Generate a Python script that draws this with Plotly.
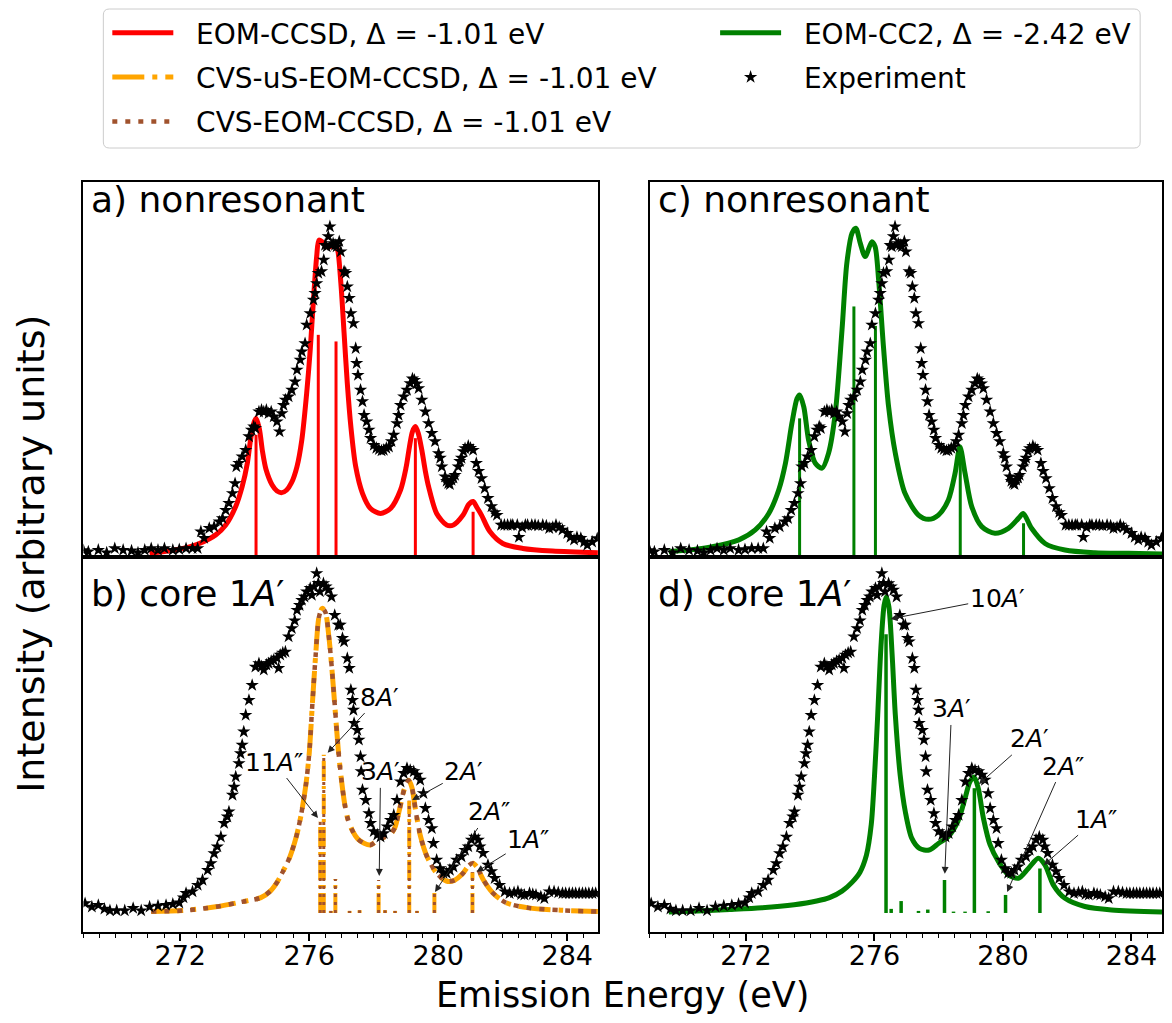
import plotly.graph_objects as go

FONT = "DejaVu Sans"
# the page body has an 8 px margin; the figure is sized so that nothing overflows the window
OFF = 8
FW, FH = 1156, 1007
SX = FW / 1164.0  # tiny horizontal squeeze so the right frame stays inside the page

# ---------------- data ----------------
X_RANGE = [269.0, 284.95]
X_TICKS = [272, 276, 280, 284]

# experiment, nonresonant (panels a, c)
EXP_NR_E = [269.00, 269.15, 269.46, 269.72, 269.97, 270.23, 270.49, 270.69, 270.90, 271.10,
            271.31, 271.51, 271.77, 271.97, 272.18, 272.38, 272.54, 272.64, 272.74, 272.90,
            273.05, 273.21, 273.31, 273.41, 273.51, 273.62, 273.70, 273.74, 273.82, 273.92,
            274.03, 274.13, 274.21, 274.28, 274.33, 274.44, 274.52, 274.59, 274.67, 274.74,
            274.82, 274.90, 275.00, 275.08, 275.15, 275.20, 275.26, 275.36, 275.46, 275.56,
            275.62, 275.72, 275.77, 275.87, 275.92, 276.03, 276.13, 276.18, 276.23, 276.28,
            276.38, 276.45, 276.49, 276.54, 276.59, 276.64, 276.69, 276.74, 276.80, 276.85,
            276.93, 276.98, 277.08, 277.13, 277.18, 277.24, 277.29, 277.37, 277.44, 277.47,
            277.51, 277.59, 277.65, 277.70, 277.78, 277.85, 277.90, 278.00, 278.08, 278.16,
            278.24, 278.31, 278.39, 278.47, 278.55, 278.62, 278.72, 278.77, 278.83, 278.93,
            279.03, 279.13, 279.20, 279.26, 279.33, 279.39, 279.49, 279.60, 279.70, 279.80,
            279.90, 280.01, 280.06, 280.11, 280.21, 280.26, 280.31, 280.36, 280.41, 280.47,
            280.52, 280.62, 280.67, 280.72, 280.78, 280.83, 280.93, 281.00, 281.08, 281.18,
            281.25, 281.34, 281.44, 281.54, 281.65, 281.75, 281.82, 281.95, 282.05, 282.15,
            282.25, 282.31, 282.45, 282.50, 282.60, 282.70, 282.77, 282.90, 283.00, 283.10,
            283.24, 283.35, 283.44, 283.55, 283.65, 283.75, 283.85, 284.00, 284.10, 284.21,
            284.30, 284.42, 284.52, 284.62, 284.77, 284.93]
EXP_NR_I = [0.020, 0.016, 0.021, 0.013, 0.026, 0.021, 0.019, 0.013, 0.021, 0.026,
            0.021, 0.026, 0.021, 0.023, 0.026, 0.026, 0.026, 0.077, 0.057, 0.087,
            0.092, 0.107, 0.117, 0.142, 0.163, 0.193, 0.223, 0.274, 0.284, 0.304,
            0.324, 0.365, 0.385, 0.395, 0.390, 0.440, 0.445, 0.440, 0.445, 0.435,
            0.440, 0.425, 0.410, 0.380, 0.435, 0.460, 0.476, 0.486, 0.506, 0.531,
            0.567, 0.597, 0.622, 0.647, 0.703, 0.738, 0.779, 0.799, 0.829, 0.860,
            0.865, 0.900, 0.945, 0.940, 0.971, 1.001, 0.945, 0.950, 0.945, 0.940,
            0.956, 0.925, 0.865, 0.860, 0.819, 0.784, 0.738, 0.708, 0.632, 0.587,
            0.551, 0.506, 0.471, 0.430, 0.410, 0.385, 0.360, 0.339, 0.330, 0.326,
            0.322, 0.324, 0.330, 0.334, 0.350, 0.370, 0.405, 0.430, 0.460, 0.486,
            0.506, 0.526, 0.540, 0.536, 0.525, 0.511, 0.476, 0.440, 0.405, 0.375,
            0.350, 0.314, 0.300, 0.274, 0.243, 0.230, 0.223, 0.220, 0.233, 0.240,
            0.248, 0.274, 0.290, 0.300, 0.320, 0.329, 0.336, 0.330, 0.324, 0.284,
            0.260, 0.238, 0.208, 0.178, 0.153, 0.135, 0.127, 0.097, 0.097, 0.097,
            0.097, 0.097, 0.097, 0.060, 0.090, 0.097, 0.097, 0.097, 0.097, 0.095,
            0.097, 0.095, 0.087, 0.090, 0.097, 0.090, 0.082, 0.072, 0.060, 0.052,
            0.060, 0.057, 0.045, 0.036, 0.046, 0.056]

# experiment, core 1A' resonant (panels b, d)
EXP_RES_E = [269.05, 269.26, 269.46, 269.65, 269.82, 270.03, 270.28, 270.54, 270.79, 271.05,
             271.31, 271.56, 271.77, 271.97, 272.10, 272.18, 272.38, 272.54, 272.69, 272.85,
             272.95, 273.05, 273.15, 273.26, 273.36, 273.46, 273.51, 273.62, 273.67, 273.72,
             273.82, 273.87, 273.92, 273.97, 274.03, 274.13, 274.23, 274.33, 274.44, 274.52,
             274.59, 274.67, 274.74, 274.82, 274.90, 275.00, 275.05, 275.10, 275.18, 275.26,
             275.36, 275.46, 275.55, 275.62, 275.70, 275.77, 275.85, 275.92, 276.03, 276.08,
             276.15, 276.23, 276.28, 276.33, 276.44, 276.52, 276.59, 276.69, 276.79, 276.90,
             276.96, 277.03, 277.08, 277.18, 277.24, 277.29, 277.34, 277.37, 277.39, 277.49,
             277.54, 277.59, 277.61, 277.65, 277.75, 277.85, 277.90, 278.00, 278.11, 278.21,
             278.31, 278.42, 278.52, 278.62, 278.72, 278.83, 278.93, 279.03, 279.13, 279.24,
             279.34, 279.44, 279.54, 279.60, 279.70, 279.80, 279.85, 279.95, 280.06, 280.16,
             280.26, 280.36, 280.47, 280.57, 280.72, 280.83, 280.93, 281.03, 281.13, 281.24,
             281.29, 281.39, 281.54, 281.65, 281.75, 281.90, 282.06, 282.21, 282.35, 282.47,
             282.57, 282.67, 282.83, 282.93, 283.03, 283.18, 283.29, 283.44, 283.59, 283.72,
             283.85, 283.95, 284.06, 284.16, 284.26, 284.37, 284.47, 284.57, 284.67, 284.78,
             284.88]
EXP_RES_I = [0.028, 0.018, 0.023, 0.012, 0.007, 0.007, 0.007, 0.014, 0.007, 0.018,
             0.021, 0.023, 0.026, 0.030, 0.045, 0.058, 0.063, 0.082, 0.097, 0.126,
             0.146, 0.175, 0.195, 0.224, 0.264, 0.283, 0.298, 0.347, 0.371, 0.401,
             0.440, 0.469, 0.494, 0.533, 0.582, 0.626, 0.670, 0.724, 0.734, 0.725,
             0.715, 0.730, 0.734, 0.740, 0.744, 0.750, 0.720, 0.759, 0.765, 0.768,
             0.813, 0.837, 0.860, 0.891, 0.905, 0.920, 0.930, 0.945, 0.955, 0.935,
             0.960, 0.999, 0.970, 0.945, 0.969, 0.960, 0.950, 0.930, 0.876, 0.847,
             0.847, 0.808, 0.798, 0.749, 0.720, 0.656, 0.626, 0.597, 0.558, 0.538,
             0.509, 0.460, 0.416, 0.362, 0.332, 0.293, 0.264, 0.240, 0.230, 0.224,
             0.234, 0.254, 0.273, 0.288, 0.332, 0.386, 0.411, 0.426, 0.420, 0.416,
             0.406, 0.391, 0.352, 0.308, 0.273, 0.249, 0.205, 0.156, 0.131, 0.117,
             0.117, 0.126, 0.136, 0.156, 0.166, 0.185, 0.195, 0.215, 0.224, 0.215,
             0.195, 0.176, 0.141, 0.122, 0.102, 0.082, 0.063, 0.058, 0.060, 0.063,
             0.055, 0.053, 0.058, 0.055, 0.053, 0.048, 0.043, 0.063, 0.063, 0.060,
             0.058, 0.058, 0.058, 0.058, 0.058, 0.058, 0.058, 0.058, 0.058, 0.058,
             0.058]

# EOM-CCSD, nonresonant (panel a)
CCSD_CURVE_E = [271.05, 271.60, 272.08, 272.59, 273.10, 273.41, 273.72, 273.92, 274.08, 274.18,
                274.28, 274.35, 274.45, 274.55, 274.66, 274.85, 275.00, 275.15, 275.30, 275.45,
                275.62, 275.77, 275.92, 276.03, 276.13, 276.23, 276.30, 276.40, 276.55, 276.65,
                276.80, 276.88, 276.98, 277.08, 277.18, 277.29, 277.44, 277.65, 277.90, 278.21,
                278.52, 278.83, 279.00, 279.10, 279.20, 279.29, 279.38, 279.49, 279.60, 279.70,
                279.95, 280.26, 280.47, 280.77, 280.95, 281.08, 281.20, 281.34, 281.60, 282.00,
                282.62, 283.54, 284.95]
CCSD_CURVE_I = [0.011, 0.018, 0.026, 0.041, 0.067, 0.097, 0.153, 0.213, 0.284, 0.355,
                0.405, 0.420, 0.390, 0.320, 0.265, 0.218, 0.200, 0.195, 0.203, 0.225,
                0.274, 0.355, 0.496, 0.627, 0.779, 0.910, 0.960, 0.955, 0.940, 0.940,
                0.946, 0.930, 0.830, 0.678, 0.526, 0.395, 0.274, 0.193, 0.147, 0.132,
                0.147, 0.203, 0.270, 0.330, 0.380, 0.395, 0.375, 0.324, 0.260, 0.213,
                0.132, 0.097, 0.097, 0.127, 0.160, 0.168, 0.150, 0.127, 0.077, 0.041,
                0.026, 0.018, 0.013]
CCSD_STICK_E = [274.35, 276.28, 276.83, 279.29, 281.08]
CCSD_STICK_I = [0.370, 0.673, 0.653, 0.360, 0.137]

# EOM-CC2, nonresonant (panel c)
CC2_NR_CURVE_E = [269.60, 270.30, 270.95, 271.78, 272.29, 272.71, 273.02, 273.23, 273.43, 273.59,
                  273.67, 273.80, 273.95, 274.16, 274.37, 274.57, 274.78, 274.99, 275.14, 275.30,
                  275.42, 275.56, 275.71, 275.92, 276.02, 276.13, 276.28, 276.44, 276.65, 276.95,
                  277.37, 277.68, 277.99, 278.30, 278.51, 278.66, 278.82, 279.03, 279.34, 279.75,
                  280.17, 280.48, 280.63, 280.89, 281.31, 281.93, 282.86, 283.90, 284.95]
CC2_NR_CURVE_I = [0.016, 0.022, 0.031, 0.052, 0.082, 0.132, 0.203, 0.284, 0.405, 0.480,
                  0.491, 0.455, 0.354, 0.284, 0.269, 0.314, 0.435, 0.688, 0.890, 0.981,
                  0.996, 0.950, 0.910, 0.955, 0.940, 0.839, 0.637, 0.455, 0.314, 0.193,
                  0.127, 0.114, 0.127, 0.173, 0.254, 0.334, 0.254, 0.152, 0.092, 0.072,
                  0.087, 0.117, 0.132, 0.087, 0.041, 0.021, 0.013, 0.011, 0.009]
CC2_NR_STICK_E = [273.67, 275.36, 276.03, 278.67, 280.64]
CC2_NR_STICK_I = [0.420, 0.759, 0.700, 0.300, 0.102]

# CVS-(uS-)EOM-CCSD, core 1A' (panel b)
CVS_CURVE_E = [271.10, 272.08, 273.10, 273.92, 274.50, 274.80, 275.00, 275.20, 275.40, 275.60,
               275.75, 275.90, 276.00, 276.10, 276.20, 276.30, 276.40, 276.50, 276.60, 276.70,
               276.80, 276.90, 277.00, 277.10, 277.20, 277.35, 277.50, 277.70, 277.90, 278.10,
               278.30, 278.50, 278.65, 278.80, 278.95, 279.08, 279.18, 279.30, 279.45, 279.65,
               279.95, 280.25, 280.50, 280.75, 280.95, 281.07, 281.20, 281.40, 281.70, 282.10,
               282.80, 283.80, 284.95]
CVS_CURVE_I = [0.004, 0.007, 0.018, 0.033, 0.045, 0.065, 0.090, 0.125, 0.165, 0.225,
               0.290, 0.380, 0.470, 0.620, 0.760, 0.870, 0.896, 0.885, 0.820, 0.720,
               0.600, 0.480, 0.390, 0.320, 0.275, 0.240, 0.218, 0.205, 0.200, 0.212,
               0.222, 0.230, 0.250, 0.305, 0.365, 0.390, 0.370, 0.300, 0.225, 0.166,
               0.117, 0.094, 0.096, 0.115, 0.140, 0.146, 0.135, 0.097, 0.058, 0.030,
               0.015, 0.008, 0.004]
CVS_STICK_E = [276.34, 276.45, 276.67, 276.81, 277.25, 277.56, 278.15, 278.35, 278.66,
               279.10, 279.34, 279.88, 281.06]
CVS_STICK_I = [0.268, 0.465, 0.006, 0.100, 0.006, 0.008, 0.097, 0.008, 0.006,
               0.330, 0.006, 0.060, 0.120]

# EOM-CC2, core 1A' (panel d)
CC2_RES_CURVE_E = [269.60, 270.50, 271.50, 272.50, 273.50, 274.20, 274.60, 275.00, 275.30, 275.55,
                   275.75, 275.90, 276.00, 276.10, 276.20, 276.30, 276.37, 276.45, 276.55, 276.65,
                   276.80, 276.96, 277.16, 277.40, 277.70, 278.00, 278.30, 278.60, 278.82, 278.97,
                   279.10, 279.23, 279.39, 279.60, 279.86, 280.17, 280.48, 280.79, 281.10, 281.31,
                   281.57, 281.93, 282.55, 283.38, 284.95]
CC2_RES_CURVE_I = [0.003, 0.006, 0.010, 0.015, 0.024, 0.035, 0.045, 0.065, 0.090, 0.120,
                   0.170, 0.260, 0.400, 0.580, 0.780, 0.905, 0.930, 0.900, 0.760, 0.582,
                   0.406, 0.298, 0.220, 0.190, 0.185, 0.205, 0.225, 0.270, 0.337, 0.386,
                   0.400, 0.367, 0.279, 0.200, 0.151, 0.112, 0.102, 0.131, 0.161, 0.141,
                   0.082, 0.043, 0.019, 0.009, 0.003]
CC2_RES_STICK_E = [276.36, 276.52, 276.83, 277.37, 277.66, 278.18, 278.46, 278.82, 279.11,
                   279.54, 280.08, 281.15]
CC2_RES_STICK_I = [0.820, 0.012, 0.035, 0.006, 0.010, 0.097, 0.004, 0.004, 0.367,
                   0.005, 0.053, 0.131]

# state annotations
ANN_B_LABELS = ["8<i>A</i>′", "11<i>A</i>″", "3<i>A</i>′", "2<i>A</i>′", "2<i>A</i>″", "1<i>A</i>″"]
ANN_B_HEAD_E = [276.57, 276.27, 278.17, 279.19, 279.90, 281.19]
ANN_B_HEAD_I = [0.471, 0.279, 0.109, 0.332, 0.062, 0.121]
ANN_B_TEXT_E = [278.18, 274.91, 278.21, 280.79, 281.56, 282.79]
ANN_B_TEXT_I = [0.635, 0.444, 0.415, 0.415, 0.297, 0.215]

ANN_D_LABELS = ["10<i>A</i>′", "3<i>A</i>′", "2<i>A</i>′", "2<i>A</i>″", "1<i>A</i>″"]
ANN_D_HEAD_E = [276.50, 278.19, 279.25, 280.13, 281.27]
ANN_D_HEAD_I = [0.865, 0.115, 0.379, 0.062, 0.141]
ANN_D_TEXT_E = [279.82, 278.40, 280.84, 281.86, 282.91]
ANN_D_TEXT_I = [0.926, 0.600, 0.512, 0.432, 0.276]

PANEL_LABELS = ["a) nonresonant", "c) nonresonant", "b) core 1<i>A</i>′", "d) core 1<i>A</i>′"]
LEGEND_NAMES = ["EOM-CCSD, Δ = -1.01 eV", "CVS-uS-EOM-CCSD, Δ = -1.01 eV",
                "CVS-EOM-CCSD, Δ = -1.01 eV", "EOM-CC2, Δ = -2.42 eV", "Experiment"]

RED, GREEN, ORANGE, BROWN = "#ff0000", "#008000", "#ffa500", "#a0522d"
ORANGE_DASH = "32px,8px,5px,8px"
BROWN_DOT = "5px,8px"
ORANGE_DASH_S = "20px,5px,3px,5px"
BROWN_DOT_S = "3px,5px"
NB = "\u00a0\u00a0"  # gap between legend sample and label


def fx(px):
    return (px - OFF) * SX / FW


def fy(py):
    return 1 - (py - OFF) / FH


# ---------------- figure ----------------
fig = go.Figure()


def sticks(E, I):
    xs, ys = [], []
    for e, i in zip(E, I):
        xs += [e, e, None]
        ys += [0.0, i, None]
    return xs, ys


def add(tr, ax):
    tr.update(xaxis="x" + ax, yaxis="y" + ax, hoverinfo="skip")
    fig.add_trace(tr)


def stars(E, I, ax, legend=False):
    add(go.Scatter(x=E, y=I, mode="markers",
                   marker=dict(symbol="star", size=10, color="black", line=dict(width=0)),
                   name=NB + LEGEND_NAMES[4], showlegend=legend, legend="legend2",
                   legendgroup="g5", legendrank=2), ax)


# panel a
sx, sy = sticks(CCSD_STICK_E, CCSD_STICK_I)
add(go.Scatter(x=sx, y=sy, mode="lines", line=dict(color=RED, width=3), showlegend=False), "")
add(go.Scatter(x=CCSD_CURVE_E, y=CCSD_CURVE_I, mode="lines",
               line=dict(color=RED, width=5, shape="spline", smoothing=0.8),
               name=NB + LEGEND_NAMES[0], legend="legend", legendgroup="g1", legendrank=1), "")
stars(EXP_NR_E, EXP_NR_I, "", legend=True)

# panel c
sx, sy = sticks(CC2_NR_STICK_E, CC2_NR_STICK_I)
add(go.Scatter(x=sx, y=sy, mode="lines", line=dict(color=GREEN, width=3), showlegend=False), "2")
add(go.Scatter(x=CC2_NR_CURVE_E, y=CC2_NR_CURVE_I, mode="lines",
               line=dict(color=GREEN, width=5, shape="spline", smoothing=0.8),
               name=NB + LEGEND_NAMES[3], legend="legend2", legendgroup="g4", legendrank=1), "2")
stars(EXP_NR_E, EXP_NR_I, "2")

# panel b
sx, sy = sticks(CVS_STICK_E, CVS_STICK_I)
add(go.Scatter(x=sx, y=sy, mode="lines", line=dict(color=ORANGE, width=4, dash=ORANGE_DASH_S),
               showlegend=False), "3")
add(go.Scatter(x=sx, y=sy, mode="lines", line=dict(color=BROWN, width=3, dash=BROWN_DOT_S),
               showlegend=False), "3")
add(go.Scatter(x=CVS_CURVE_E, y=CVS_CURVE_I, mode="lines",
               line=dict(color=ORANGE, width=5, dash=ORANGE_DASH, shape="spline", smoothing=0.8),
               name=NB + LEGEND_NAMES[1], legend="legend", legendgroup="g2", legendrank=2), "3")
add(go.Scatter(x=CVS_CURVE_E, y=CVS_CURVE_I, mode="lines",
               line=dict(color=BROWN, width=4.5, dash=BROWN_DOT, shape="spline", smoothing=0.8),
               name=NB + LEGEND_NAMES[2], legend="legend", legendgroup="g3", legendrank=3), "3")
stars(EXP_RES_E, EXP_RES_I, "3")

# panel d
sx, sy = sticks(CC2_RES_STICK_E, CC2_RES_STICK_I)
add(go.Scatter(x=sx, y=sy, mode="lines", line=dict(color=GREEN, width=3.5), showlegend=False), "4")
add(go.Scatter(x=CC2_RES_CURVE_E, y=CC2_RES_CURVE_I, mode="lines",
               line=dict(color=GREEN, width=5, shape="spline", smoothing=0.8),
               showlegend=False), "4")
stars(EXP_RES_E, EXP_RES_I, "4")

# ---------------- axes ----------------
XL = [fx(84), fx(602)]
XR = [fx(654), fx(1170)]
YT = [fy(557), fy(182)]
YB = [fy(932), fy(557)]
TOP_RANGE = [0.0, 1.136]
BOT_RANGE = [-0.056, 1.047]

frame = dict(showline=True, mirror=True, linecolor="black", linewidth=1.5,
             showgrid=False, zeroline=False, automargin=False)
top_x = dict(frame, range=X_RANGE, showticklabels=False, ticks="")
bot_x = dict(frame, range=X_RANGE, ticks="outside", ticklen=7, tickwidth=1.5, tickcolor="black",
             tickmode="array", tickvals=X_TICKS, ticktext=[str(t) for t in X_TICKS],
             tickfont=dict(family=FONT, size=27, color="black"), ticklabelstandoff=-8,
             minor=dict(ticks="outside", ticklen=4, tickwidth=1, tickcolor="black",
                        dtick=0.5, tick0=269, showgrid=False))
ycommon = dict(frame, showticklabels=False, ticks="")

fig.update_layout(
    xaxis=dict(top_x, domain=XL, anchor="y"),
    yaxis=dict(ycommon, domain=YT, anchor="x", range=TOP_RANGE),
    xaxis2=dict(top_x, domain=XR, anchor="y2"),
    yaxis2=dict(ycommon, domain=YT, anchor="x2", range=TOP_RANGE),
    xaxis3=dict(bot_x, domain=XL, anchor="y3"),
    yaxis3=dict(ycommon, domain=YB, anchor="x3", range=BOT_RANGE),
    xaxis4=dict(bot_x, domain=XR, anchor="y4"),
    yaxis4=dict(ycommon, domain=YB, anchor="x4", range=BOT_RANGE),
)

# ---------------- annotations ----------------
anns = []
label_pos = [(90, 200), (660, 200), (90, 593), (660, 593)]
for txt, (px, py) in zip(PANEL_LABELS, label_pos):
    anns.append(dict(text=txt, x=fx(px), y=fy(py), xref="paper", yref="paper",
                     xanchor="left", yanchor="middle", showarrow=False,
                     font=dict(family=FONT, size=36, color="black")))

anns.append(dict(text="Emission Energy (eV)", x=fx(627), y=fy(995), xref="paper",
                 yref="paper", xanchor="center", yanchor="middle", showarrow=False,
                 font=dict(family=FONT, size=35, color="black")))
anns.append(dict(text="Intensity (arbitrary units)", x=fx(31), y=fy(554), xref="paper",
                 yref="paper", xanchor="center", yanchor="middle", showarrow=False,
                 textangle=-90, font=dict(family=FONT, size=38, color="black")))


def state_anns(labels, he, hi, te, ti, ax):
    for l, a, b, c, d in zip(labels, he, hi, te, ti):
        anns.append(dict(text=l, x=a, y=b, ax=c, ay=d, xref="x" + ax, yref="y" + ax,
                         axref="x" + ax, ayref="y" + ax, showarrow=True, arrowhead=2,
                         arrowsize=1.4, arrowwidth=1, arrowcolor="#222222",
                         font=dict(family=FONT, size=25, color="black")))


state_anns(ANN_B_LABELS, ANN_B_HEAD_E, ANN_B_HEAD_I, ANN_B_TEXT_E, ANN_B_TEXT_I, "3")
state_anns(ANN_D_LABELS, ANN_D_HEAD_E, ANN_D_HEAD_I, ANN_D_TEXT_E, ANN_D_TEXT_I, "4")

# legend frame (rounded)
x0, x1 = fx(104), fx(1148)
y0, y1 = fy(148), fy(9)
rx, ry = 6 / FW, 6 / FH
path = (f"M{x0+rx},{y1} L{x1-rx},{y1} Q{x1},{y1} {x1},{y1-ry} L{x1},{y0+ry} "
        f"Q{x1},{y0} {x1-rx},{y0} L{x0+rx},{y0} Q{x0},{y0} {x0},{y0+ry} "
        f"L{x0},{y1-ry} Q{x0},{y1} {x0+rx},{y1} Z")

leg_common = dict(orientation="v", xanchor="left", yanchor="top", bgcolor="rgba(0,0,0,0)",
                  borderwidth=0, itemwidth=61, tracegroupgap=5, traceorder="grouped",
                  font=dict(family=FONT, size=28, color="black"))

fig.update_layout(
    width=FW, height=FH, margin=dict(l=0, r=0, t=0, b=0, autoexpand=False),
    paper_bgcolor="white", plot_bgcolor="white",
    annotations=anns,
    shapes=[dict(type="path", path=path, xref="paper", yref="paper",
                 line=dict(color="#cccccc", width=1), fillcolor="rgba(255,255,255,0.8)",
                 layer="below")],
    legend=dict(leg_common, x=fx(108), y=fy(8)),
    legend2=dict(leg_common, x=fx(720), y=fy(8)),
    font=dict(family=FONT, color="black"),
    showlegend=True,
)

fig.write_html("out.html")
